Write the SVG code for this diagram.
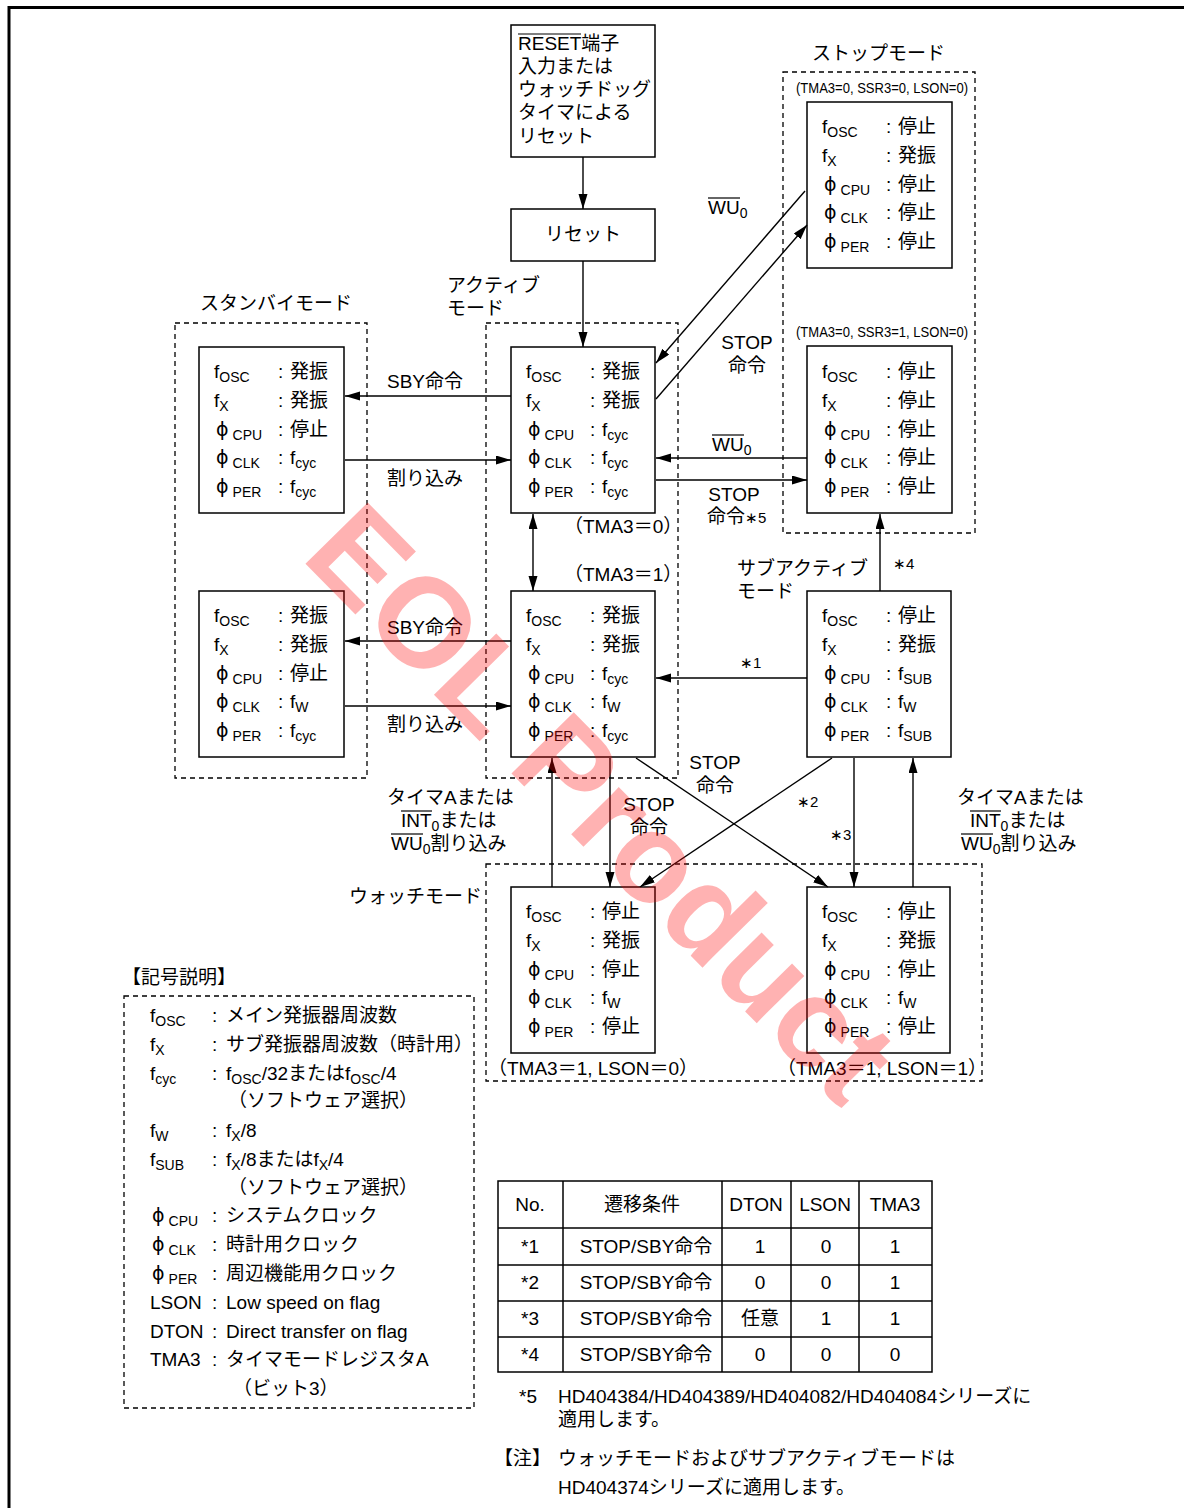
<svg xmlns="http://www.w3.org/2000/svg" width="1184" height="1508" viewBox="0 0 1184 1508">
<defs>
<marker id="ah" markerUnits="userSpaceOnUse" markerWidth="16" markerHeight="10" refX="15" refY="4.5" orient="auto-start-reverse">
<path d="M0,0 L15,4.5 L0,9 z" fill="#000"/>
</marker>
<style>
text{font-family:"Liberation Sans","Noto Sans CJK JP",sans-serif;font-size:19px;fill:#000}
.sb{font-size:14px}
.sm{font-size:15px}
.ph{font-family:"DejaVu Sans",sans-serif;font-size:19px}
.cond{font-size:14px}
.box{fill:#fff;stroke:#000;stroke-width:1.5}
.dash{fill:none;stroke:#000;stroke-width:1.3;stroke-dasharray:5 4}
.cn line,.cn polyline{stroke:#000;stroke-width:1.4;fill:none}
.ov{stroke:#000;stroke-width:1.2}
.mid{text-anchor:middle}
.tb{fill:none;stroke:#000;stroke-width:1.5}
</style>
</defs>
<rect x="0" y="0" width="1184" height="1508" fill="#fff"/>
<g id="frame">
<line x1="8" y1="7.5" x2="1184" y2="7.5" stroke="#000" stroke-width="3"/>
<line x1="9" y1="6" x2="9" y2="1508" stroke="#000" stroke-width="3"/>
</g>

<g id="mode-frames">
<rect class="dash" x="175" y="323" width="192" height="455"/>
<rect class="dash" x="486" y="323" width="192" height="455"/>
<rect class="dash" x="783" y="72" width="192" height="461"/>
<rect class="dash" x="486" y="864" width="496" height="217"/>
<text x="200" y="310">スタンバイモード</text>
<text x="447" y="292">アクティブ</text>
<text x="447" y="315">モード</text>
<text x="812" y="60">ストップモード</text>
<text class="cond" x="796" y="93" textLength="172" lengthAdjust="spacingAndGlyphs">(TMA3=0, SSR3=0, LSON=0)</text>
<text class="cond" x="796" y="337" textLength="172" lengthAdjust="spacingAndGlyphs">(TMA3=0, SSR3=1, LSON=0)</text>
<text x="737" y="575">サブアクティブ</text>
<text x="737" y="598">モード</text>
<text x="349" y="903">ウォッチモード</text>
<text x="564" y="533">（TMA3＝0）</text>
<text x="564" y="581">（TMA3＝1）</text>
<text x="488" y="1075">（TMA3＝1, LSON＝0）</text>
<text x="777" y="1075">（TMA3＝1, LSON＝1）</text>
</g>

<g id="reset-pin">
<rect class="box" x="511" y="25" width="144" height="132"/>
<text x="518" y="50">RESET端子</text>
<line class="ov" x1="518" y1="34" x2="581" y2="34"/>
<text x="518" y="73">入力または</text>
<text x="518" y="96">ウォッチドッグ</text>
<text x="518" y="119">タイマによる</text>
<text x="518" y="143">リセット</text>
</g>

<g id="reset">
<rect class="box" x="511" y="209" width="144" height="52"/>
<text class="mid" x="583" y="241">リセット</text>
</g>

<g id="standby-1">
<rect class="box" x="199" y="347" width="145" height="166"/>
<text x="214" y="378">f<tspan class="sb" dy="4">OSC</tspan></text>
<text x="214" y="407">f<tspan class="sb" dy="4">X</tspan></text>
<text x="216" y="436"><tspan class="ph">ϕ</tspan><tspan class="sb" dx="4" dy="4">CPU</tspan></text>
<text x="216" y="464"><tspan class="ph">ϕ</tspan><tspan class="sb" dx="4" dy="4">CLK</tspan></text>
<text x="216" y="493"><tspan class="ph">ϕ</tspan><tspan class="sb" dx="4" dy="4">PER</tspan></text>
<text x="278" y="378">:</text><text x="278" y="407">:</text><text x="278" y="436">:</text><text x="278" y="464">:</text><text x="278" y="493">:</text>
<text x="290" y="378">発振</text>
<text x="290" y="407">発振</text>
<text x="290" y="436">停止</text>
<text x="290" y="464">f<tspan class="sb" dy="4">cyc</tspan></text>
<text x="290" y="493">f<tspan class="sb" dy="4">cyc</tspan></text>
</g>

<g id="standby-2">
<rect class="box" x="199" y="591" width="145" height="166"/>
<text x="214" y="622">f<tspan class="sb" dy="4">OSC</tspan></text>
<text x="214" y="651">f<tspan class="sb" dy="4">X</tspan></text>
<text x="216" y="680"><tspan class="ph">ϕ</tspan><tspan class="sb" dx="4" dy="4">CPU</tspan></text>
<text x="216" y="708"><tspan class="ph">ϕ</tspan><tspan class="sb" dx="4" dy="4">CLK</tspan></text>
<text x="216" y="737"><tspan class="ph">ϕ</tspan><tspan class="sb" dx="4" dy="4">PER</tspan></text>
<text x="278" y="622">:</text><text x="278" y="651">:</text><text x="278" y="680">:</text><text x="278" y="708">:</text><text x="278" y="737">:</text>
<text x="290" y="622">発振</text>
<text x="290" y="651">発振</text>
<text x="290" y="680">停止</text>
<text x="290" y="708">f<tspan class="sb" dy="4">W</tspan></text>
<text x="290" y="737">f<tspan class="sb" dy="4">cyc</tspan></text>
</g>

<g id="active-1">
<rect class="box" x="511" y="347" width="144" height="166"/>
<text x="526" y="378">f<tspan class="sb" dy="4">OSC</tspan></text>
<text x="526" y="407">f<tspan class="sb" dy="4">X</tspan></text>
<text x="528" y="436"><tspan class="ph">ϕ</tspan><tspan class="sb" dx="4" dy="4">CPU</tspan></text>
<text x="528" y="464"><tspan class="ph">ϕ</tspan><tspan class="sb" dx="4" dy="4">CLK</tspan></text>
<text x="528" y="493"><tspan class="ph">ϕ</tspan><tspan class="sb" dx="4" dy="4">PER</tspan></text>
<text x="590" y="378">:</text><text x="590" y="407">:</text><text x="590" y="436">:</text><text x="590" y="464">:</text><text x="590" y="493">:</text>
<text x="602" y="378">発振</text>
<text x="602" y="407">発振</text>
<text x="602" y="436">f<tspan class="sb" dy="4">cyc</tspan></text>
<text x="602" y="464">f<tspan class="sb" dy="4">cyc</tspan></text>
<text x="602" y="493">f<tspan class="sb" dy="4">cyc</tspan></text>
</g>

<g id="active-2">
<rect class="box" x="511" y="591" width="144" height="166"/>
<text x="526" y="622">f<tspan class="sb" dy="4">OSC</tspan></text>
<text x="526" y="651">f<tspan class="sb" dy="4">X</tspan></text>
<text x="528" y="680"><tspan class="ph">ϕ</tspan><tspan class="sb" dx="4" dy="4">CPU</tspan></text>
<text x="528" y="708"><tspan class="ph">ϕ</tspan><tspan class="sb" dx="4" dy="4">CLK</tspan></text>
<text x="528" y="737"><tspan class="ph">ϕ</tspan><tspan class="sb" dx="4" dy="4">PER</tspan></text>
<text x="590" y="622">:</text><text x="590" y="651">:</text><text x="590" y="680">:</text><text x="590" y="708">:</text><text x="590" y="737">:</text>
<text x="602" y="622">発振</text>
<text x="602" y="651">発振</text>
<text x="602" y="680">f<tspan class="sb" dy="4">cyc</tspan></text>
<text x="602" y="708">f<tspan class="sb" dy="4">W</tspan></text>
<text x="602" y="737">f<tspan class="sb" dy="4">cyc</tspan></text>
</g>

<g id="stop-1">
<rect class="box" x="807" y="102" width="145" height="166"/>
<text x="822" y="133">f<tspan class="sb" dy="4">OSC</tspan></text>
<text x="822" y="162">f<tspan class="sb" dy="4">X</tspan></text>
<text x="824" y="191"><tspan class="ph">ϕ</tspan><tspan class="sb" dx="4" dy="4">CPU</tspan></text>
<text x="824" y="219"><tspan class="ph">ϕ</tspan><tspan class="sb" dx="4" dy="4">CLK</tspan></text>
<text x="824" y="248"><tspan class="ph">ϕ</tspan><tspan class="sb" dx="4" dy="4">PER</tspan></text>
<text x="886" y="133">:</text><text x="886" y="162">:</text><text x="886" y="191">:</text><text x="886" y="219">:</text><text x="886" y="248">:</text>
<text x="898" y="133">停止</text>
<text x="898" y="162">発振</text>
<text x="898" y="191">停止</text>
<text x="898" y="219">停止</text>
<text x="898" y="248">停止</text>
</g>

<g id="stop-2">
<rect class="box" x="807" y="346" width="145" height="167"/>
<text x="822" y="378">f<tspan class="sb" dy="4">OSC</tspan></text>
<text x="822" y="407">f<tspan class="sb" dy="4">X</tspan></text>
<text x="824" y="436"><tspan class="ph">ϕ</tspan><tspan class="sb" dx="4" dy="4">CPU</tspan></text>
<text x="824" y="464"><tspan class="ph">ϕ</tspan><tspan class="sb" dx="4" dy="4">CLK</tspan></text>
<text x="824" y="493"><tspan class="ph">ϕ</tspan><tspan class="sb" dx="4" dy="4">PER</tspan></text>
<text x="886" y="378">:</text><text x="886" y="407">:</text><text x="886" y="436">:</text><text x="886" y="464">:</text><text x="886" y="493">:</text>
<text x="898" y="378">停止</text>
<text x="898" y="407">停止</text>
<text x="898" y="436">停止</text>
<text x="898" y="464">停止</text>
<text x="898" y="493">停止</text>
</g>

<g id="sub-active">
<rect class="box" x="807" y="591" width="144" height="166"/>
<text x="822" y="622">f<tspan class="sb" dy="4">OSC</tspan></text>
<text x="822" y="651">f<tspan class="sb" dy="4">X</tspan></text>
<text x="824" y="680"><tspan class="ph">ϕ</tspan><tspan class="sb" dx="4" dy="4">CPU</tspan></text>
<text x="824" y="708"><tspan class="ph">ϕ</tspan><tspan class="sb" dx="4" dy="4">CLK</tspan></text>
<text x="824" y="737"><tspan class="ph">ϕ</tspan><tspan class="sb" dx="4" dy="4">PER</tspan></text>
<text x="886" y="622">:</text><text x="886" y="651">:</text><text x="886" y="680">:</text><text x="886" y="708">:</text><text x="886" y="737">:</text>
<text x="898" y="622">停止</text>
<text x="898" y="651">発振</text>
<text x="898" y="680">f<tspan class="sb" dy="4">SUB</tspan></text>
<text x="898" y="708">f<tspan class="sb" dy="4">W</tspan></text>
<text x="898" y="737">f<tspan class="sb" dy="4">SUB</tspan></text>
</g>

<g id="watch-1">
<rect class="box" x="511" y="887" width="144" height="166"/>
<text x="526" y="918">f<tspan class="sb" dy="4">OSC</tspan></text>
<text x="526" y="947">f<tspan class="sb" dy="4">X</tspan></text>
<text x="528" y="976"><tspan class="ph">ϕ</tspan><tspan class="sb" dx="4" dy="4">CPU</tspan></text>
<text x="528" y="1004"><tspan class="ph">ϕ</tspan><tspan class="sb" dx="4" dy="4">CLK</tspan></text>
<text x="528" y="1033"><tspan class="ph">ϕ</tspan><tspan class="sb" dx="4" dy="4">PER</tspan></text>
<text x="590" y="918">:</text><text x="590" y="947">:</text><text x="590" y="976">:</text><text x="590" y="1004">:</text><text x="590" y="1033">:</text>
<text x="602" y="918">停止</text>
<text x="602" y="947">発振</text>
<text x="602" y="976">停止</text>
<text x="602" y="1004">f<tspan class="sb" dy="4">W</tspan></text>
<text x="602" y="1033">停止</text>
</g>

<g id="watch-2">
<rect class="box" x="807" y="887" width="143" height="166"/>
<text x="822" y="918">f<tspan class="sb" dy="4">OSC</tspan></text>
<text x="822" y="947">f<tspan class="sb" dy="4">X</tspan></text>
<text x="824" y="976"><tspan class="ph">ϕ</tspan><tspan class="sb" dx="4" dy="4">CPU</tspan></text>
<text x="824" y="1004"><tspan class="ph">ϕ</tspan><tspan class="sb" dx="4" dy="4">CLK</tspan></text>
<text x="824" y="1033"><tspan class="ph">ϕ</tspan><tspan class="sb" dx="4" dy="4">PER</tspan></text>
<text x="886" y="918">:</text><text x="886" y="947">:</text><text x="886" y="976">:</text><text x="886" y="1004">:</text><text x="886" y="1033">:</text>
<text x="898" y="918">停止</text>
<text x="898" y="947">発振</text>
<text x="898" y="976">停止</text>
<text x="898" y="1004">f<tspan class="sb" dy="4">W</tspan></text>
<text x="898" y="1033">停止</text>
</g>

<g id="connectors" class="cn">
<line x1="583" y1="157" x2="583" y2="209" marker-end="url(#ah)"/>
<line x1="583" y1="261" x2="583" y2="347" marker-end="url(#ah)"/>
<line x1="511" y1="396" x2="345" y2="396" marker-end="url(#ah)"/>
<line x1="345" y1="460" x2="511" y2="460" marker-end="url(#ah)"/>
<line x1="511" y1="641" x2="345" y2="641" marker-end="url(#ah)"/>
<line x1="345" y1="706" x2="511" y2="706" marker-end="url(#ah)"/>
<line x1="533" y1="514" x2="533" y2="591" marker-start="url(#ah)" marker-end="url(#ah)"/>
<line x1="805" y1="191" x2="656" y2="363" marker-end="url(#ah)"/>
<line x1="656" y1="399" x2="807" y2="225" marker-end="url(#ah)"/>
<line x1="807" y1="458" x2="656" y2="458" marker-end="url(#ah)"/>
<line x1="656" y1="480" x2="807" y2="480" marker-end="url(#ah)"/>
<line x1="880" y1="591" x2="880" y2="514" marker-end="url(#ah)"/>
<line x1="807" y1="678" x2="656" y2="678" marker-end="url(#ah)"/>
<line x1="552" y1="887" x2="552" y2="758" marker-end="url(#ah)"/>
<line x1="610" y1="758" x2="610" y2="887" marker-end="url(#ah)"/>
<line x1="636" y1="758" x2="828" y2="887" marker-end="url(#ah)"/>
<line x1="832" y1="758" x2="640" y2="887" marker-end="url(#ah)"/>
<line x1="854" y1="758" x2="854" y2="887" marker-end="url(#ah)"/>
<line x1="913" y1="887" x2="913" y2="758" marker-end="url(#ah)"/>
</g>

<g id="connector-labels">
<text class="mid" x="425" y="388">SBY命令</text>
<text class="mid" x="425" y="485">割り込み</text>
<text class="mid" x="425" y="634">SBY命令</text>
<text class="mid" x="425" y="731">割り込み</text>
<text x="708" y="214">WU<tspan class="sb" dy="4">0</tspan></text>
<line class="ov" x1="708" y1="198" x2="740" y2="198"/>
<text class="mid" x="747" y="349">STOP</text>
<text class="mid" x="747" y="372">命令</text>
<text x="712" y="451">WU<tspan class="sb" dy="4">0</tspan></text>
<line class="ov" x1="712" y1="435" x2="744" y2="435"/>
<text class="mid" x="734" y="501">STOP</text>
<text x="707" y="523">命令<tspan class="sm">∗5</tspan></text>
<text class="sm" x="893" y="569">∗4</text>
<text class="sm" x="740" y="668">∗1</text>
<text class="sm" x="797" y="807">∗2</text>
<text class="sm" x="830" y="840">∗3</text>
<text class="mid" x="715" y="769">STOP</text>
<text class="mid" x="715" y="792">命令</text>
<text class="mid" x="649" y="811">STOP</text>
<text class="mid" x="649" y="834">命令</text>
<text x="387" y="804">タイマAまたは</text>
<text x="401" y="827">INT<tspan class="sb" dy="4">0</tspan><tspan dy="-4">または</tspan></text>
<line class="ov" x1="401" y1="811" x2="432" y2="811"/>
<text x="391" y="850">WU<tspan class="sb" dy="4">0</tspan><tspan dy="-4">割り込み</tspan></text>
<line class="ov" x1="391" y1="834" x2="423" y2="834"/>
<text x="957" y="804">タイマAまたは</text>
<text x="970" y="827">INT<tspan class="sb" dy="4">0</tspan><tspan dy="-4">または</tspan></text>
<line class="ov" x1="970" y1="811" x2="1001" y2="811"/>
<text x="961" y="850">WU<tspan class="sb" dy="4">0</tspan><tspan dy="-4">割り込み</tspan></text>
<line class="ov" x1="961" y1="834" x2="993" y2="834"/>
</g>

<g id="legend">
<text x="122" y="984">【記号説明】</text>
<rect class="dash" x="124" y="996" width="350" height="412"/>
<text x="150" y="1022">f<tspan class="sb" dy="4">OSC</tspan></text>
<text x="150" y="1051">f<tspan class="sb" dy="4">X</tspan></text>
<text x="150" y="1080">f<tspan class="sb" dy="4">cyc</tspan></text>
<text x="150" y="1137">f<tspan class="sb" dy="4">W</tspan></text>
<text x="150" y="1166">f<tspan class="sb" dy="4">SUB</tspan></text>
<text x="152" y="1222"><tspan class="ph">ϕ</tspan><tspan class="sb" dx="4" dy="4">CPU</tspan></text>
<text x="152" y="1251"><tspan class="ph">ϕ</tspan><tspan class="sb" dx="4" dy="4">CLK</tspan></text>
<text x="152" y="1280"><tspan class="ph">ϕ</tspan><tspan class="sb" dx="4" dy="4">PER</tspan></text>
<text x="150" y="1309">LSON</text>
<text x="150" y="1338">DTON</text>
<text x="150" y="1366">TMA3</text>
<text x="212" y="1022">:</text><text x="212" y="1051">:</text><text x="212" y="1080">:</text><text x="212" y="1137">:</text><text x="212" y="1166">:</text><text x="212" y="1222">:</text><text x="212" y="1251">:</text><text x="212" y="1280">:</text><text x="212" y="1309">:</text><text x="212" y="1338">:</text><text x="212" y="1366">:</text>
<text x="226" y="1022">メイン発振器周波数</text>
<text x="226" y="1051">サブ発振器周波数（時計用）</text>
<text x="226" y="1080">f<tspan class="sb" dy="4">OSC</tspan><tspan dy="-4">/32またはf</tspan><tspan class="sb" dy="4">OSC</tspan><tspan dy="-4">/4</tspan></text>
<text x="228" y="1107">（ソフトウェア選択）</text>
<text x="226" y="1137">f<tspan class="sb" dy="4">X</tspan><tspan dy="-4">/8</tspan></text>
<text x="226" y="1166">f<tspan class="sb" dy="4">X</tspan><tspan dy="-4">/8またはf</tspan><tspan class="sb" dy="4">X</tspan><tspan dy="-4">/4</tspan></text>
<text x="228" y="1194">（ソフトウェア選択）</text>
<text x="226" y="1222">システムクロック</text>
<text x="226" y="1251">時計用クロック</text>
<text x="226" y="1280">周辺機能用クロック</text>
<text x="226" y="1309">Low speed on flag</text>
<text x="226" y="1338">Direct transfer on flag</text>
<text x="226" y="1366">タイマモードレジスタA</text>
<text x="233" y="1395">（ビット3）</text>
</g>

<g id="table">
<rect class="tb" x="498" y="1181" width="434" height="191"/>
<line class="tb" x1="563" y1="1181" x2="563" y2="1372"/>
<line class="tb" x1="722" y1="1181" x2="722" y2="1372"/>
<line class="tb" x1="791" y1="1181" x2="791" y2="1372"/>
<line class="tb" x1="859" y1="1181" x2="859" y2="1372"/>
<line class="tb" x1="498" y1="1228" x2="932" y2="1228"/>
<line class="tb" x1="498" y1="1265" x2="932" y2="1265"/>
<line class="tb" x1="498" y1="1301" x2="932" y2="1301"/>
<line class="tb" x1="498" y1="1337" x2="932" y2="1337"/>
<text class="mid" x="530" y="1211">No.</text>
<text class="mid" x="642" y="1211">遷移条件</text>
<text class="mid" x="756" y="1211">DTON</text>
<text class="mid" x="825" y="1211">LSON</text>
<text class="mid" x="895" y="1211">TMA3</text>
<text class="mid" x="530" y="1253">*1</text><text class="mid" x="646" y="1253">STOP/SBY命令</text><text class="mid" x="760" y="1253">1</text><text class="mid" x="826" y="1253">0</text><text class="mid" x="895" y="1253">1</text>
<text class="mid" x="530" y="1289">*2</text><text class="mid" x="646" y="1289">STOP/SBY命令</text><text class="mid" x="760" y="1289">0</text><text class="mid" x="826" y="1289">0</text><text class="mid" x="895" y="1289">1</text>
<text class="mid" x="530" y="1325">*3</text><text class="mid" x="646" y="1325">STOP/SBY命令</text><text class="mid" x="760" y="1325">任意</text><text class="mid" x="826" y="1325">1</text><text class="mid" x="895" y="1325">1</text>
<text class="mid" x="530" y="1361">*4</text><text class="mid" x="646" y="1361">STOP/SBY命令</text><text class="mid" x="760" y="1361">0</text><text class="mid" x="826" y="1361">0</text><text class="mid" x="895" y="1361">0</text>
</g>

<g id="notes">
<text x="519" y="1403">*5</text>
<text x="558" y="1403">HD404384/HD404389/HD404082/HD404084シリーズに</text>
<text x="558" y="1426">適用します。</text>
<text x="494" y="1465">【注】</text>
<text x="558" y="1465">ウォッチモードおよびサブアクティブモードは</text>
<text x="558" y="1494">HD404374シリーズに適用します。</text>
</g>

<g id="watermark" transform="translate(602,803) rotate(45.5)">
<text x="0" y="44" text-anchor="middle" style="font-size:127px;font-weight:bold;fill:#ff0000;fill-opacity:0.3;font-family:'Liberation Sans',sans-serif">EOL Product</text>
</g>
</svg>
